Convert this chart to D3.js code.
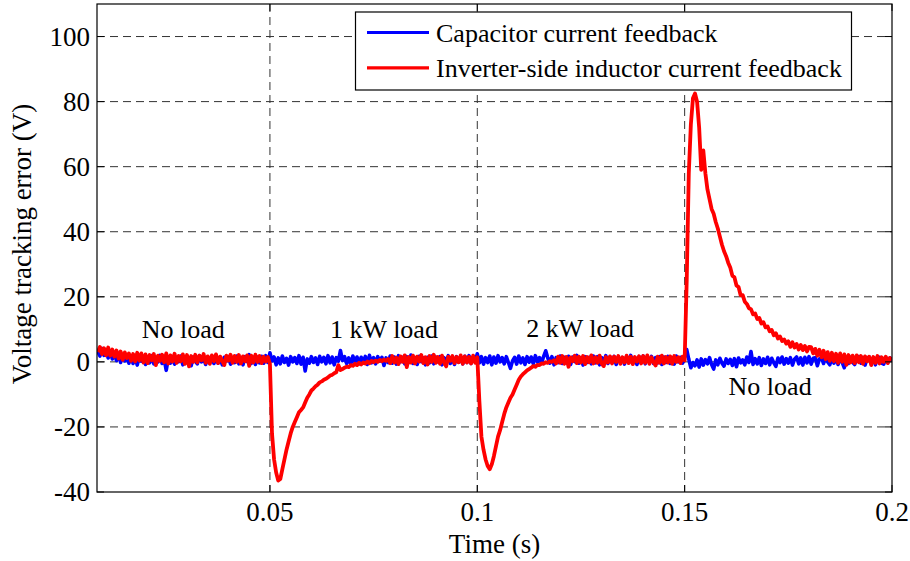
<!DOCTYPE html>
<html><head><meta charset="utf-8">
<script src="https://cdn.jsdelivr.net/npm/d3@7"></script>
<style>body{margin:0;background:#fff}svg{display:block}text{font-family:"Liberation Serif","Times New Roman",serif;fill:#000}</style>
</head><body><svg id="c" width="910" height="561"></svg>
<script>
// ---- data ----
const sampleStart = 0.0085, sampleStep = 0.0005;
const xTicks = [0.05, 0.1, 0.15, 0.2];
const xTickLabels = ["0.05", "0.1", "0.15", "0.2"];
const yTicks = [-40, -20, 0, 20, 40, 60, 80, 100];
const yTickLabels = ["-40", "-20", "0", "20", "40", "60", "80", "100"];
const seriesNames = ["Capacitor current feedback", "Inverter-side inductor current feedback"];
const annotations = [
  {text: "No load", t: 0.01908, v: 7.35},
  {text: "1 kW load", t: 0.0645, v: 7.35},
  {text: "2 kW load", t: 0.1118, v: 7.75},
  {text: "No load", t: 0.1606, v: -10.2}
];
const blueValues = [
 3.2,1.8,4.1,2.0,3.6,1.2,3.0,0.9,2.6,0.4,2.2,-0.2,1.9,0.3,1.6,-0.4,
 1.8,-0.5,1.4,-1.0,1.7,0.2,1.2,-0.8,1.5,-0.3,1.9,-0.6,1.3,0.0,2.0,-0.5,
 0.8,-2.6,1.2,-0.4,1.6,-0.7,1.3,0.1,1.8,-0.9,1.4,-0.2,1.1,-1.2,1.5,0.2,
 -0.6,1.9,0.0,1.2,-0.8,1.5,-0.3,1.7,-0.5,2.0,-0.4,1.1,-0.9,1.4,0.3,1.6,
 -0.7,1.3,-0.2,1.8,-0.6,1.2,-0.9,1.6,0.1,2.2,-0.5,1.4,-0.8,1.5,-0.3,1.7,
 -0.4,1.9,-0.2,2.8,0.3,1.5,-0.9,1.2,-0.6,1.8,-0.2,1.1,-1.0,1.6,0.0,1.3,
 -0.5,1.9,-0.7,1.4,-2.8,0.9,-0.4,1.6,-0.2,1.2,-0.8,1.7,0.0,1.4,-0.6,1.9,
 -0.3,1.5,-0.9,1.3,0.2,3.5,0.4,1.6,-0.5,1.2,-0.7,1.8,-0.1,1.5,-0.6,1.4,
 0.0,1.7,-0.8,2.0,-0.3,1.3,-0.6,1.6,0.2,1.4,-1.1,1.2,-0.2,1.8,-0.4,1.5,
 -0.7,1.9,0.0,1.4,-0.6,1.6,-0.2,2.1,-0.5,1.3,-0.8,1.7,0.1,1.2,-0.9,1.4,
 -0.3,1.8,-0.6,1.5,0.0,1.6,-0.9,1.3,-0.2,1.9,-0.5,1.4,-0.8,1.6,-0.1,1.2,
 -0.6,1.7,-0.2,1.9,-0.5,1.4,0.1,2.5,-0.3,1.6,-0.7,1.3,-0.2,1.8,-0.9,1.5,
 -0.4,1.9,0.0,1.3,-0.6,1.6,-0.2,-2.0,0.3,1.4,-0.7,1.8,-0.3,1.2,-0.8,1.6,
 -0.1,1.5,-0.6,1.9,0.0,1.3,-0.5,1.7,3.4,1.2,-0.4,1.6,-0.9,1.3,-0.2,1.8,
 -0.5,1.4,-0.3,1.7,-0.8,1.5,0.1,2.0,-0.4,1.2,-1.0,1.6,-0.2,1.4,-0.6,1.8,
 -0.3,1.6,-0.9,1.3,0.0,1.9,-0.5,1.4,-0.2,1.7,-0.8,1.5,-0.1,1.3,-0.7,1.6,
 0.0,2.0,-0.4,1.2,-0.8,1.6,-0.2,1.8,-0.6,1.4,-0.1,1.7,-0.5,1.3,-0.3,1.6,
 -0.8,1.5,-0.2,1.7,-0.5,1.3,-0.7,1.8,0.0,1.4,-0.4,1.6,3.8,0.8,-1.8,-0.2,
 -1.2,0.6,-1.6,0.9,-1.0,0.7,-0.6,1.3,-0.8,-2.2,0.6,-0.9,1.1,-0.4,-1.3,0.9,
 -0.5,0.8,-1.1,1.0,-1.5,1.2,-0.3,0.6,-0.9,1.5,-0.2,3.2,-0.8,1.0,-0.6,1.3,
 -1.1,0.9,-0.5,1.4,-0.9,1.1,-0.3,-1.4,1.2,-0.2,1.5,-0.7,1.0,-0.4,1.3,-1.0,
 0.8,1.5,-0.6,1.2,-1.0,1.4,-0.3,1.6,-0.7,1.1,1.3,-1.2,0.9,1.2,-0.5,1.7,
 0.0,-0.9,1.4,-0.4,1.5,-0.8,1.1,-0.2,-1.8,1.3,-0.5,1.4,-0.1,-0.8,1.1,1.6,
 -0.4,1.3,-1.0,1.1,1.5,-0.5,1.2,-0.9,1.1,1.4,-0.4,-0.7,1.3,-0.1,1.2,0.3
];
const redNoLoad1 = [
 3.0,4.6,2.4,4.2,2.0,4.4,1.9,3.8,1.6,3.5,
 1.0,3.2,0.6,2.9,1.2,2.6,0.3,2.4,0.1,2.8,
 0.4,2.6,-0.2,2.3,-0.4,2.1,0.5,2.4,-1.0,1.9,
 0.3,2.2,-0.1,2.6,-0.5,2.0,0.1,2.5,-0.3,1.8,
 0.2,2.3,-0.6,2.1,-1.4,1.8,0.0,2.2,-0.2,1.9,
 0.5,2.4,-0.3,1.7,-0.6,2.0,0.2,2.3,-0.4,1.6,
 0.3,-1.0,1.9,0.4,2.2,-0.3,1.8,0.0,2.1,-0.5,
 1.7,0.2,2.0,-1.2,1.9,-0.2,2.2,0.0,1.8,-0.4,
 1.6,0.1,1.5,-0.6
];
const redLoad1k = [
 -22,-30,-34,-36.5,-36,-33,-30,-27,-24.5,-22,
 -20,-18.5,-17,-15.5,-14.8,-14,-12.5,-11,-10,-8.8,
 -8.2,-7.5,-7,-6.3,-6,-5.5,-5.2,-4.8,-4.2,-4,
 -3.5,-3.2,-1.0,-2.5,-2.2,-1.8,-1.5,-1.6,-1.0,-1.2,
 -0.6,-1.0,-0.3,-0.8,-0.2,-0.5,0.1,-0.4,0.3,-0.1,
 0.4,0.0,0.6,0.2,0.7,0.3,0.9,
 -0.4,1.8,-0.2,1.3,-0.7,1.7,0.0,2.0,-1.6,1.5,
 -0.2,1.9,-0.5,1.6,0.1,2.1,-0.4,1.4,-0.8,1.8,
 0.0,2.2,-0.3,1.5,-0.6,1.9,-0.2,-1.4,1.6,0.3,
 1.8,-0.4,1.5,-0.1,2.0,-0.6,1.7,-0.2,1.5,-0.5,
 1.9,-0.3,1.4
];
const redLoad2k = [
 -12,-23,-27,-30,-32,-33,-31.5,-29,-26,-23,
 -21,-18.5,-16,-14,-12.5,-11,-10,-8.5,-7,-5.5,
 -4.5,-3.8,-3.2,-2.6,-2.2,-1.8,-1.3,-1.5,-0.9,-1.0,
 -0.5,-0.6,-0.1,-0.3,0.2,0.0,0.5,
 -0.5,1.6,-0.3,1.8,-0.6,1.5,-1.5,1.4,0.2,1.9,
 -0.4,1.6,-0.2,1.8,-0.7,1.5,-0.1,2.0,-0.5,1.4,
 -0.3,1.9,-0.6,-1.3,1.5,-0.2,1.7,-0.5,1.6,0.0,
 1.8,-0.6,1.4,-0.2,1.9,-0.4,1.6,-0.7,1.5,0.1,
 1.7,-0.5,1.8,-0.3,2.0,-0.6,1.4,-0.1,-1.1,1.6,
 -0.3,1.9,-0.5,1.5,-0.2,1.7,-0.6,1.8,0.0,1.4,
 -0.4,1.6,0.5
];
const redNoLoad2 = [
 25,58,73,81,82.5,80,72,59,65,58,
 53,50,47,45.5,43,41,38.5,36,34,32.5,
 30.5,29,26.5,26,23.5,23,20.5,20.5,18.5,17.8,
 16.5,16.2,14.6,14.9,13.2,13.5,11.8,12.2,10.6,10.9,
 9.4,9.8,8.2,8.8,7.2,7.8,6.4,6.9,5.6,6.3,
 4.6,6.0,4.4,5.5,3.8,5.2,3.6,4.9,3.2,4.6,
 4.5,2.6,4.0,1.9,3.7,1.4,3.4,0.8,3.0,0.3,
 2.8,0.2,2.5,-0.3,2.6,0.0,2.3,-0.9,2.1,-0.2,
 1.9,-0.4,2.0,-0.1,1.8,-0.6,1.7,0.2,1.6,-1.0,
 1.5,-0.3,1.8,-0.5,1.4,0.0,1.6,-0.4,1.2,0.5
];
const redValues = redNoLoad1.concat(redLoad1k, redLoad2k, redNoLoad2);

// ---- layout ----
const M = {left: 97, right: 892, top: 4, bottom: 492};
const svg = d3.select("#c");
const x = d3.scaleLinear().domain([0.0083, 0.2]).range([M.left, M.right]);
const y = d3.scaleLinear().domain([-40, 110]).range([M.bottom, M.top]);
const tOf = i => sampleStart + i * sampleStep;

svg.append("defs").append("clipPath").attr("id", "clip")
  .append("rect").attr("x", M.left).attr("y", M.top)
  .attr("width", M.right - M.left).attr("height", M.bottom - M.top);

// grid
const gridColor = "#333";
const grid = svg.append("g");
grid.selectAll("line.gx").data(xTicks.slice(0, -1)).join("line")
  .attr("x1", d => x(d)).attr("x2", d => x(d))
  .attr("y1", M.top).attr("y2", M.bottom)
  .attr("stroke", gridColor).attr("stroke-width", 1).attr("stroke-dasharray", "8,5");
grid.selectAll("line.gy").data(yTicks.slice(1)).join("line")
  .attr("x1", M.left).attr("x2", M.right)
  .attr("y1", d => y(d)).attr("y2", d => y(d))
  .attr("stroke", gridColor).attr("stroke-width", 1).attr("stroke-dasharray", "8,5");

// data
const line = d3.line().x((d, i) => x(tOf(i))).y(d => y(d));
const data = svg.append("g").attr("clip-path", "url(#clip)");
data.append("path").datum(blueValues).attr("d", line)
  .attr("fill", "none").attr("stroke", "#0000ff").attr("stroke-width", 3.6).attr("stroke-linejoin", "round");
data.append("path").datum(redValues).attr("d", line)
  .attr("fill", "none").attr("stroke", "#ff0000").attr("stroke-width", 3.8).attr("stroke-linejoin", "round");

// axes box
svg.append("rect").attr("x", M.left).attr("y", M.top)
  .attr("width", M.right - M.left).attr("height", M.bottom - M.top)
  .attr("fill", "none").attr("stroke", "#000").attr("stroke-width", 1.2);

// ticks (inward, both sides)
const tk = 7;
const ticks = svg.append("g").attr("stroke", "#000").attr("stroke-width", 1);
xTicks.forEach(t => {
  ticks.append("line").attr("x1", x(t)).attr("x2", x(t)).attr("y1", M.bottom).attr("y2", M.bottom - tk);
  ticks.append("line").attr("x1", x(t)).attr("x2", x(t)).attr("y1", M.top).attr("y2", M.top + tk);
});
yTicks.forEach(v => {
  ticks.append("line").attr("x1", M.left).attr("x2", M.left + tk).attr("y1", y(v)).attr("y2", y(v));
  ticks.append("line").attr("x1", M.right).attr("x2", M.right - tk).attr("y1", y(v)).attr("y2", y(v));
});

// tick labels
svg.append("g").selectAll("text").data(xTicks).join("text")
  .attr("x", d => x(d)).attr("y", 521).attr("text-anchor", "middle")
  .attr("font-size", 27).text((d, i) => xTickLabels[i]);
svg.append("g").selectAll("text").data(yTicks).join("text")
  .attr("x", 90).attr("y", d => y(d)).attr("dy", "0.34em").attr("text-anchor", "end")
  .attr("font-size", 27).text((d, i) => yTickLabels[i]);

// axis titles
svg.append("text").attr("x", (M.left + M.right) / 2).attr("y", 553).attr("text-anchor", "middle")
  .attr("font-size", 27).text("Time (s)");
svg.append("text").attr("transform", "translate(31,244) rotate(-90)").attr("text-anchor", "middle")
  .attr("font-size", 27).text("Voltage tracking error (V)");

// annotations
svg.append("g").selectAll("text").data(annotations).join("text")
  .attr("x", d => x(d.t)).attr("y", d => y(d.v)).attr("text-anchor", "start")
  .attr("font-size", 26).text(d => d.text);

// legend
const lg = svg.append("g");
lg.append("rect").attr("x", 355.5).attr("y", 12).attr("width", 496).attr("height", 78)
  .attr("fill", "#fff").attr("stroke", "#000").attr("stroke-width", 1.2);
const legendColors = ["#0000ff", "#ff0000"];
seriesNames.forEach((name, i) => {
  const yy = 32.5 + i * 35.3;
  lg.append("line").attr("x1", 367).attr("x2", 429).attr("y1", yy).attr("y2", yy)
    .attr("stroke", legendColors[i]).attr("stroke-width", 3.2);
  lg.append("text").attr("x", 436).attr("y", yy + 9.5).attr("font-size", 26).text(name);
});
</script></body></html>
